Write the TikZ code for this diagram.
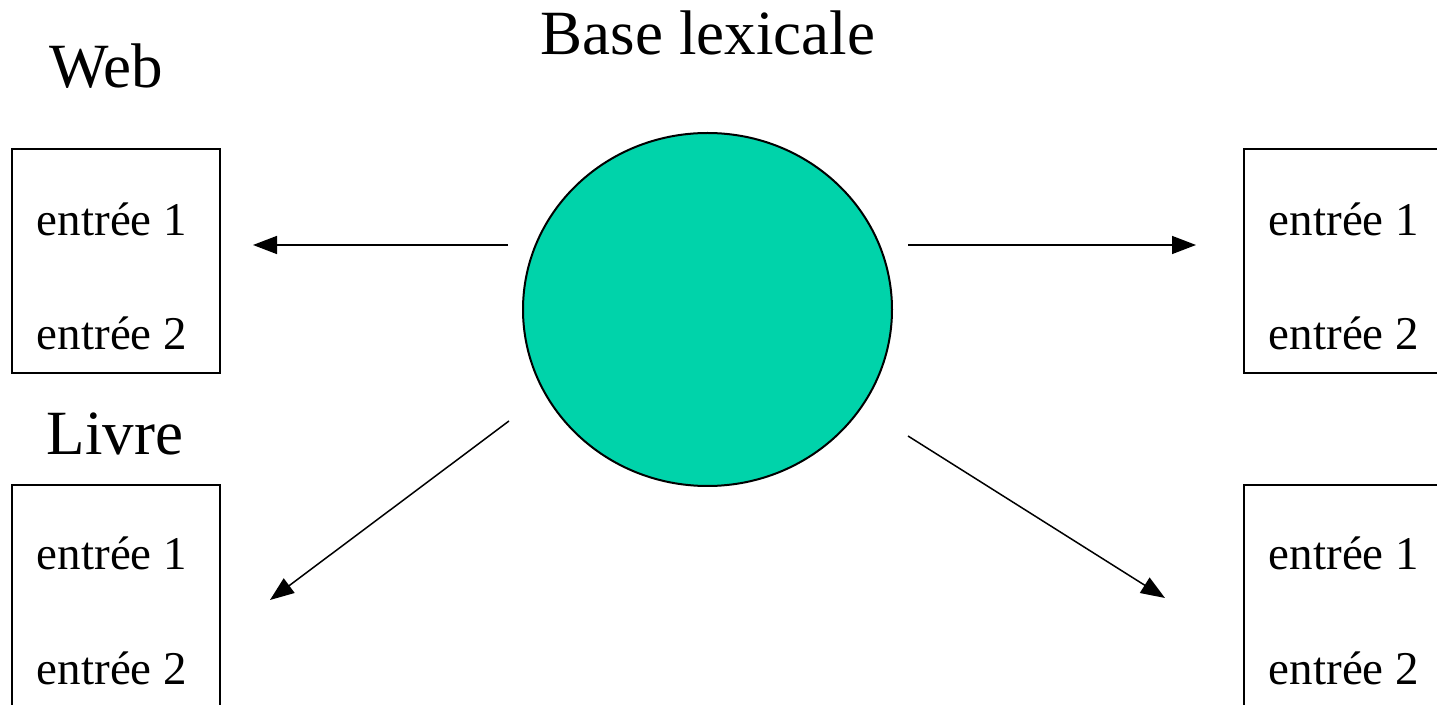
\documentclass[tikz,border=0pt]{standalone}
\usepackage{fontspec}
\setmainfont{Liberation Serif}
\usetikzlibrary{arrows.meta,positioning,shapes.geometric}
\definecolor{lexgreen}{RGB}{0,211,170}
\tikzset{
  src/.style={rectangle, draw=black, line width=1pt, inner sep=0pt},
  ent/.style={anchor=base, inner sep=0pt, font=\fontsize{23.5}{28}\selectfont},
  ttl/.style={anchor=base, inner sep=0pt, font=\fontsize{31.5}{36}\selectfont},
  ar/.style={-{Triangle[length=12pt, width=9pt]}, line width=0.75pt},
}
\begin{document}
\begin{tikzpicture}[x=0.5pt, y=-0.5pt]
\useasboundingbox (0,0) rectangle (1437,705);
\clip (0,0) rectangle (1437,705);
% lexical base
\node[ellipse, draw=black, line width=1pt, fill=lexgreen, minimum width=184.5pt, minimum height=176.5pt, inner sep=0pt] (lex) at (707.5,309.5) {};
\node[ttl] (lextitle) at (708,55) {Base lexicale};
% sources
\node[ttl] (web) at (106,88) {Web};
\node[ttl] (livre) at (115,455) {Livre};
\node[src, minimum width=104pt, minimum height=112pt] (webbox) at (116,261) {};
\node[src, minimum width=104pt, minimum height=120pt] (livbox) at (116,605) {};
\node[src, minimum width=104pt, minimum height=112pt] (rtbox) at (1348,261) {};
\node[src, minimum width=104pt, minimum height=120pt] (rbbox) at (1348,605) {};
% entries
\node[ent] (w1) at (112,236) {entrée 1};
\node[ent] (w2) at (112,350) {entrée 2};
\node[ent] (l1) at (112,570) {entrée 1};
\node[ent] (l2) at (112,685) {entrée 2};
\node[ent] (r1) at (1344,236) {entrée 1};
\node[ent] (r2) at (1344,350) {entrée 2};
\node[ent] (s1) at (1344,570) {entrée 1};
\node[ent] (s2) at (1344,685) {entrée 2};
% arrow ends
\coordinate (aw) at (508,245);
\coordinate (awt) at (253,245);
\coordinate (ae) at (908,245);
\coordinate (aet) at (1196,245);
\coordinate (asw) at (509,421);
\coordinate (aswt) at (270,600);
\coordinate (ase) at (908,436);
\coordinate (aset) at (1165,598);
\draw[ar] (aw) -- (awt);
\draw[ar] (ae) -- (aet);
\draw[ar] (asw) -- (aswt);
\draw[ar] (ase) -- (aset);
\end{tikzpicture}
\end{document}
